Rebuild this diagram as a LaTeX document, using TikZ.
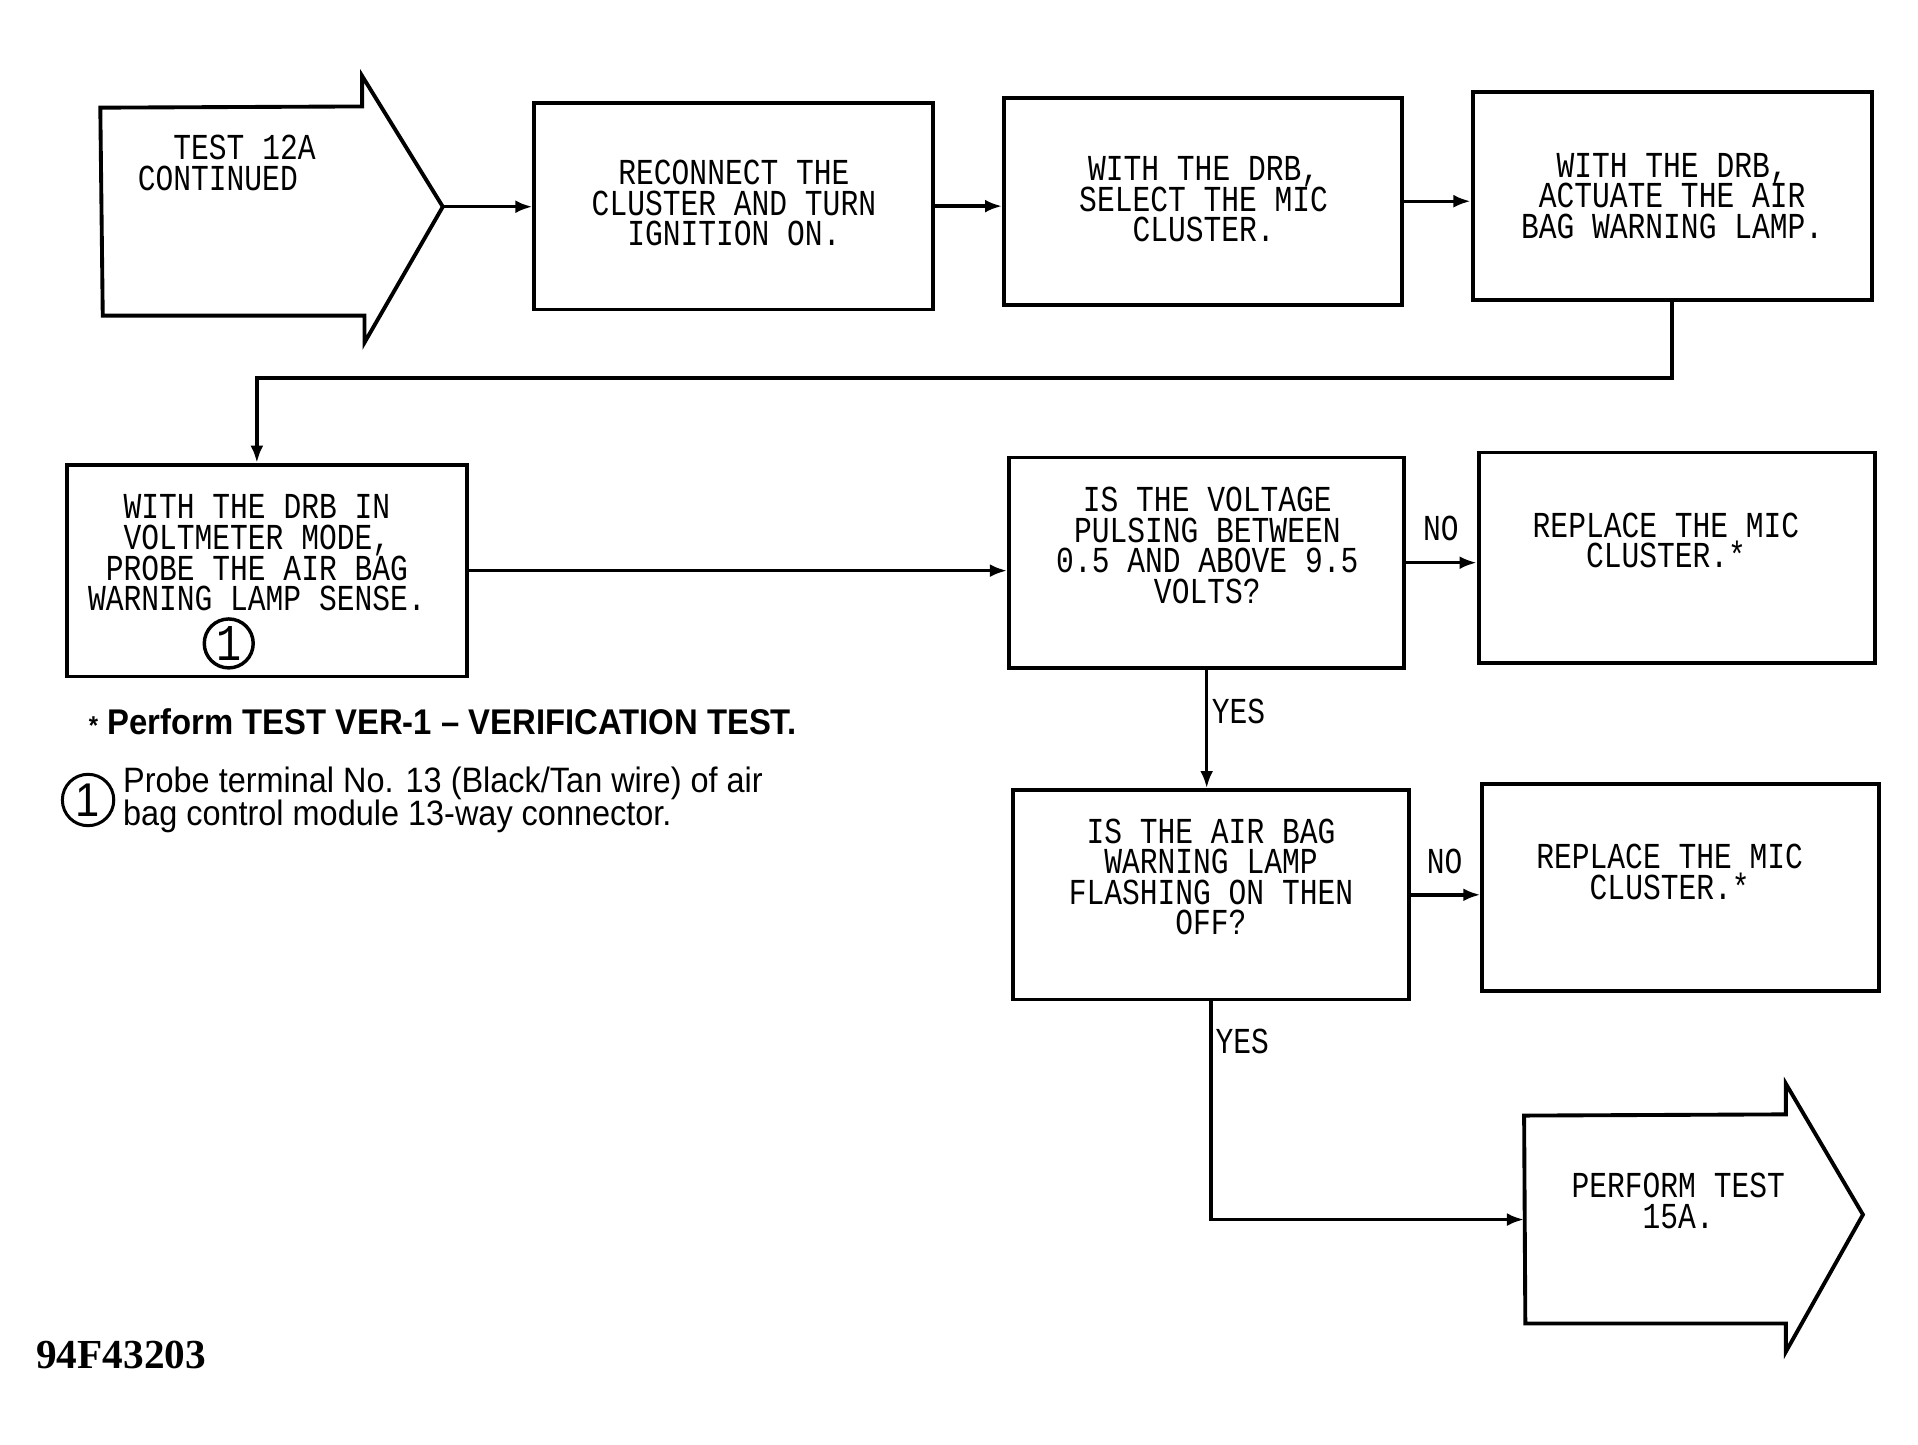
\documentclass[tikz,border=0pt]{standalone}
\usepackage{fontspec}
\setmainfont{Liberation Sans}
\newfontfamily\plotfont[FakeStretch=0.81]{Liberation Mono}
\newfontfamily\notefont[FakeStretch=0.92]{Liberation Sans}
\newfontfamily\codefont{Liberation Serif}
\usetikzlibrary{arrows.meta}
\lineskiplimit=-\maxdimen
\begin{document}
\begin{tikzpicture}[x=0.01cm,y=-0.01cm,
  box/.style={draw,line width=0.9pt,inner sep=0pt},
  btext/.style={align=center,font=\plotfont\fontsize{8.5}{7.1}\selectfont,inner sep=0pt},
  conn/.style={line width=0.8pt,-{Latex[length=4pt,width=3pt]}},
  lbl/.style={font=\plotfont\fontsize{8.5}{7.1}\selectfont,inner sep=0pt},
  shapeline/.style={line width=0.9pt,line join=miter}]
\useasboundingbox (0,0) rectangle (1568,1180.5);

% start arrow
\draw[shapeline] (82,88) -- (296,87) -- (296,62) -- (362,169) -- (298,280) -- (298,258) -- (84,258) -- cycle;
\coordinate (a1tip) at (362,169);
\node[lbl,anchor=west,align=left] (t1) at (112,133) {\phantom{CO}TEST 12A\\CONTINUED};

% boxes
\node[box,minimum width=3.26cm,minimum height=1.69cm] (b2) at (600,168.5) {};
\node[box,minimum width=3.25cm,minimum height=1.69cm] (b3) at (983.5,164.5) {};
\node[box,minimum width=3.26cm,minimum height=1.70cm] (b4) at (1367,160) {};
\node[box,minimum width=3.27cm,minimum height=1.73cm] (b5) at (218.5,466.5) {};
\node[box,minimum width=3.23cm,minimum height=1.72cm] (b6) at (986.5,460) {};
\node[box,minimum width=3.24cm,minimum height=1.72cm] (b7) at (1371,456) {};
\node[box,minimum width=3.24cm,minimum height=1.71cm] (b8) at (990,731.5) {};
\node[box,minimum width=3.24cm,minimum height=1.69cm] (b9) at (1374,725.5) {};

% box texts
\node[btext] (t2) at (600,166) {RECONNECT THE\\CLUSTER AND TURN\\IGNITION ON.};
\node[btext] (t3) at (984,163) {WITH THE DRB,\\SELECT THE MIC\\CLUSTER.};
\node[btext] (t4) at (1367,160) {WITH THE DRB,\\ACTUATE THE AIR\\BAG WARNING LAMP.};
\node[btext] (t5) at (210,452) {WITH THE DRB IN\\VOLTMETER MODE,\\PROBE THE AIR BAG\\WARNING LAMP SENSE.};
\node[btext] (t6) at (987,446) {IS THE VOLTAGE\\PULSING BETWEEN\\0.5 AND ABOVE 9.5\\VOLTS?};
\node[btext] (t7) at (1362,442) {REPLACE THE MIC\\CLUSTER.*};
\node[btext] (t8) at (990,717) {IS THE AIR BAG\\WARNING LAMP\\FLASHING ON THEN\\OFF?};
\node[btext] (t9) at (1365,713) {REPLACE THE MIC\\CLUSTER.*};
\node[draw,circle,minimum size=0.40cm,inner sep=0pt,line width=0.8pt,font=\plotfont\fontsize{12}{12}\selectfont] (c5) at (187,526) {1};

% end arrow
\draw[shapeline] (1246,912) -- (1460,911) -- (1460,886) -- (1523,993) -- (1460,1105) -- (1460,1082) -- (1247,1082) -- cycle;
\coordinate (a2tail) at (1246,997);
\node[btext] (t10) at (1372,982) {PERFORM TEST\\15A.};

% connectors
\coordinate (c1) at (210,309);
\draw[conn] (a1tip) -- (a1tip -| b2.west);
\draw[conn] (b2.east) -- (b2.east -| b3.west);
\draw[conn] (b3.east) -- (b3.east -| b4.west);
\draw[conn] (b4.south) |- (c1) -- (c1 |- b5.north);
\draw[conn] (b5.east) -- (b5.east -| b6.west);
\draw[conn] (b6.east) -- (b6.east -| b7.west);
\draw[conn] (b6.south) -- (b6.south |- b8.north);
\draw[conn] (b8.east) -- (b8.east -| b9.west);
\draw[conn] (b8.south) |- (a2tail);

% labels
\node[lbl] (no1) at (1178,432) {NO};
\node[lbl] (no2) at (1181,704) {NO};
\node[lbl,anchor=west] (yes1) at (990,582) {YES};
\node[lbl,anchor=west] (yes2) at (993,851) {YES};

% notes
\node[anchor=west,inner sep=0pt,font=\notefont\bfseries\fontsize{8.3}{9}\selectfont] (n1) at (72,590) {{\fontsize{6}{6}\selectfont *}\ Perform TEST VER-1 – VERIFICATION TEST.};
\node[draw,circle,minimum size=0.42cm,inner sep=0pt,line width=0.7pt,font=\notefont\fontsize{11}{11}\selectfont] (c6) at (72,654) {1};
\node[anchor=west,align=left,inner sep=0pt,font=\notefont\fontsize{8.2}{7.7}\selectfont] (n2) at (100,654) {Probe terminal No. 13 (Black/Tan wire) of air\\bag control module 13-way connector.};
\node[font=\codefont\bfseries\fontsize{9.6}{10}\selectfont] (code) at (99,1108) {94F43203};
\end{tikzpicture}
\end{document}
